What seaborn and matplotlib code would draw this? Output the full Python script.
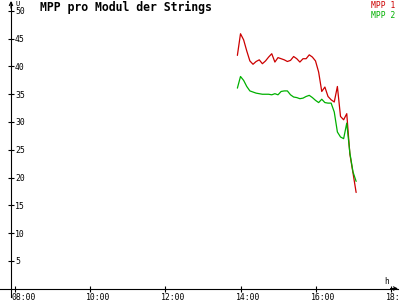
import matplotlib
matplotlib.use('Agg')
import matplotlib.pyplot as plt
import matplotlib.transforms as mtransforms
import seaborn as sns
import pandas as pd

# ---- data ----
times = ["13:55", "14:00", "14:05", "14:10", "14:15", "14:20", "14:25", "14:30",
         "14:35", "14:40", "14:45", "14:50", "14:55", "15:00", "15:05", "15:10",
         "15:15", "15:20", "15:25", "15:30", "15:35", "15:40", "15:45", "15:50",
         "15:55", "16:00", "16:05", "16:10", "16:15", "16:20", "16:25", "16:30",
         "16:35", "16:40", "16:45", "16:50", "16:55", "17:00", "17:05"]
mpp1 = [42.0, 45.9, 44.8, 42.8, 41.0, 40.4, 40.9, 41.2, 40.5, 41.0, 41.7, 42.3,
        40.8, 41.6, 41.4, 41.2, 40.9, 41.1, 41.8, 41.4, 40.8, 41.4, 41.4, 42.1,
        41.7, 41.0, 39.0, 35.5, 36.3, 34.6, 34.0, 33.6, 36.4, 31.0, 30.4, 31.5,
        24.2, 20.8, 17.3]
mpp2 = [36.1, 38.2, 37.5, 36.4, 35.6, 35.4, 35.2, 35.1, 35.0, 35.0, 35.0, 34.9,
        35.1, 34.9, 35.5, 35.6, 35.6, 34.9, 34.5, 34.4, 34.2, 34.3, 34.6, 34.8,
        34.4, 33.9, 33.5, 34.1, 33.5, 33.4, 33.4, 31.8, 28.2, 27.3, 27.0, 29.8,
        24.4, 21.0, 19.3]
series_names = ["MPP 1", "MPP 2"]
series_colors = ["#cc0000", "#00b000"]
xtick_hours = [8, 10, 12, 14, 16, 18]
xtick_labels = ["08:00", "10:00", "12:00", "14:00", "16:00", "18:00"]
ytick_values = [5, 10, 15, 20, 25, 30, 35, 40, 45, 50]
title_text = "MPP pro Modul der Strings"
x_unit = "h"
y_unit = "U"

hours = [int(t[:2]) + int(t[3:]) / 60 for t in times]
n = len(hours)
df = pd.DataFrame({
    "hour": hours + hours,
    "value": mpp1 + mpp2,
    "series": [series_names[0]] * n + [series_names[1]] * n,
})

sns.set_style("white")
plt.rcParams['font.family'] = ['DejaVu Sans Mono', 'DejaVu Sans']
plt.rcParams['text.color'] = 'black'
plt.rcParams['axes.labelcolor'] = 'black'
plt.rcParams['axes.titlecolor'] = 'black'

fig = plt.figure(figsize=(4, 3), dpi=100)
ax = fig.add_axes([0, 0, 1, 1])
ax.set_facecolor("white")

sns.lineplot(data=df, x="hour", y="value", hue="series", hue_order=series_names,
             palette=series_colors, estimator=None, linewidth=0.9, ax=ax)

# pixel mapping: x px = 15.5 + (h-8)*37.5 ; y px = 288.5 - v*5.55
ax.set_xlim(7.587, 18.253)
ax.set_ylim(-2.07, 51.98)

x_axis_pos = 7.88
for s in ["top", "right"]:
    ax.spines[s].set_visible(False)
ax.spines["left"].set_position(("data", x_axis_pos))
ax.spines["bottom"].set_position(("data", 0))
ax.spines["left"].set_bounds(-1.6, 51.6)
ax.spines["bottom"].set_bounds(7.587, 18.2)
for s in ["left", "bottom"]:
    ax.spines[s].set_linewidth(0.8)
    ax.spines[s].set_color("black")

# arrow heads
ax.annotate("", xy=(18.2, 0), xytext=(18.0, 0),
            arrowprops=dict(arrowstyle="->", lw=0.8, color="black", mutation_scale=6,
                            shrinkA=0, shrinkB=0))
ax.annotate("", xy=(x_axis_pos, 51.8), xytext=(x_axis_pos, 50.5),
            arrowprops=dict(arrowstyle="->", lw=0.8, color="black", mutation_scale=6,
                            shrinkA=0, shrinkB=0))

ax.set_yticks(ytick_values)
ax.set_yticklabels([str(v) for v in ytick_values])
ax.set_xticks(xtick_hours)
ax.set_xticklabels(xtick_labels)
ax.tick_params(axis="both", direction="inout", length=4.3, width=0.8, colors="black",
               labelsize=5.9)
ax.tick_params(axis="y", pad=-5.05, left=True)
ax.tick_params(axis="x", pad=1.1, bottom=True)
for lbl in ax.get_yticklabels():
    lbl.set_horizontalalignment("left")
offset = mtransforms.ScaledTranslation(-4.3 / 100, 0, fig.dpi_scale_trans)
for lbl in ax.get_xticklabels():
    lbl.set_horizontalalignment("left")
    lbl.set_transform(lbl.get_transform() + offset)

ax.set_xlabel(x_unit, fontsize=5.5)
ax.set_ylabel(y_unit, fontsize=5, rotation=0)
ax.xaxis.set_label_coords(386.5 / 400, 1 - 281 / 300)
ax.xaxis.label.set_va("center")
ax.yaxis.set_label_coords(17.5 / 400, 1 - 3.5 / 300)
ax.yaxis.label.set_va("center")
ax.yaxis.label.set_ha("center")

ax.set_title(title_text, loc="left", x=40 / 400, y=1 - 10.7 / 300, pad=0,
             fontsize=8.3, fontweight="bold", va="baseline", color="black")

leg = ax.legend(loc="upper right", bbox_to_anchor=(395 / 400, 1 - 0.5 / 300),
                handlelength=0, handletextpad=0, frameon=False, borderpad=0,
                borderaxespad=0, labelspacing=0.15, fontsize=5.76,
                labelcolor="linecolor")
for h in leg.legend_handles:
    h.set_visible(False)

ax.grid(False)
fig.savefig("out.png", dpi=100, facecolor="white")
